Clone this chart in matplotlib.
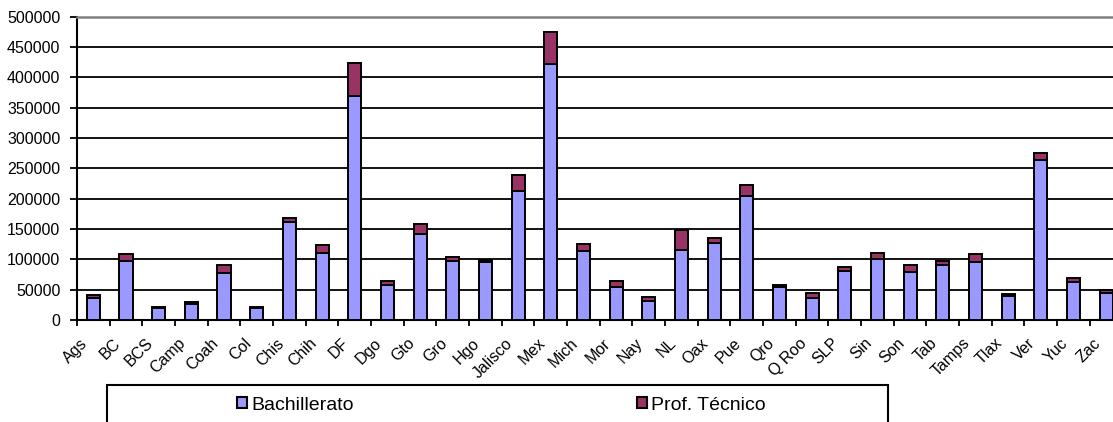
import matplotlib
matplotlib.use("Agg")
import matplotlib.pyplot as plt
import matplotlib.transforms as mtransforms
from matplotlib.patches import Rectangle
import numpy as np

plt.rcParams["font.family"] = ["Liberation Sans", "DejaVu Sans"]

estados = ["Ags", "BC", "BCS", "Camp", "Coah", "Col", "Chis", "Chih", "DF", "Dgo",
           "Gto", "Gro", "Hgo", "Jalisco", "Mex", "Mich", "Mor", "Nay", "NL", "Oax",
           "Pue", "Qro", "Q Roo", "SLP", "Sin", "Son", "Tab", "Tamps", "Tlax", "Ver",
           "Yuc", "Zac"]
bachillerato = [37000, 97000, 19000, 26000, 77000, 20000, 162000, 111000, 369000, 58000,
                141000, 98000, 96000, 213000, 422000, 113000, 55000, 31000, 116000, 127000,
                205000, 54000, 36000, 81000, 101000, 79000, 91000, 96000, 40000, 264000,
                63000, 45000]
prof_tecnico = [4000, 11000, 3000, 3000, 14000, 1500, 6000, 13000, 55000, 7000,
                18000, 6000, 3000, 26000, 53000, 12000, 10000, 7000, 32000, 9000,
                17000, 4000, 8000, 6000, 9000, 12000, 7000, 12000, 3000, 11000,
                6000, 4000]

W, H = 1113, 422
fig = plt.figure(figsize=(W / 100, H / 100), dpi=100)
ax = fig.add_axes([77 / W, 102 / H, 1045.5 / W, 303.3 / H])

x = np.arange(len(estados))
lw = 1.4
ax.bar(x, bachillerato, width=0.4, color="#9999FF", edgecolor="black", linewidth=lw,
       label="Bachillerato", zorder=3)
ax.bar(x, prof_tecnico, width=0.4, bottom=bachillerato, color="#993366",
       edgecolor="black", linewidth=lw, label="Prof. Técnico", zorder=3)

ax.set_xlim(-0.5, len(estados) - 0.5)
ax.set_ylim(0, 500000)
ax.set_yticks(np.arange(0, 500001, 50000))
ax.yaxis.grid(True, color="black", linewidth=1.3, zorder=0)
ax.set_axisbelow(True)

ax.set_xticks(x)
ax.set_xticklabels(estados, rotation=45, ha="right", va="center",
                   rotation_mode="anchor", fontsize=11.5)
ax.set_xticks(np.arange(-0.5, len(estados), 1), minor=True)
ax.tick_params(axis="x", which="major", length=0, pad=15)
ax.tick_params(axis="x", which="minor", length=4, width=1.3, color="black")
ax.tick_params(axis="y", length=5, width=1.3, pad=7, labelsize=11.5)

offset = mtransforms.ScaledTranslation(-8 / 100, 0, fig.dpi_scale_trans)
for lab in ax.get_xticklabels():
    lab.set_transform(lab.get_transform() + offset)

for s in ["left", "bottom"]:
    ax.spines[s].set_color("black")
    ax.spines[s].set_linewidth(1.5)
ax.spines["right"].set_visible(False)
ax.spines["top"].set_color("#808080")
ax.spines["top"].set_linewidth(1.8)

# caja de la leyenda
fig.patches.append(Rectangle((107 / W, -0.05), 781 / W, 0.05 + 37 / H,
                             transform=fig.transFigure, facecolor="white",
                             edgecolor="black", linewidth=1.5))
leg = fig.legend(loc="center left", bbox_to_anchor=(219 / W, 17 / H), ncol=2,
                 frameon=False, fontsize=14, handlelength=0.55, handleheight=0.55,
                 handletextpad=0.2, columnspacing=14.55)
for h in leg.legend_handles:
    h.set_linewidth(1.5)

fig.savefig("out.png", dpi=100)
